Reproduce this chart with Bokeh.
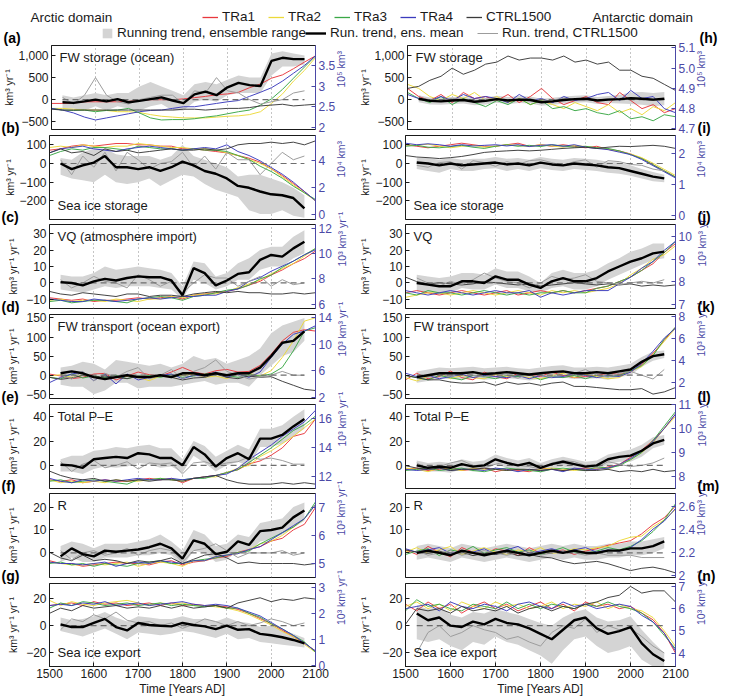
import math
from bokeh.plotting import figure
from bokeh.models import (Range1d, LinearAxis, FixedTicker, Label, Legend, LegendItem, Grid)
from bokeh.layouts import column, row
from bokeh.embed import file_html
from bokeh.resources import INLINE

# ---------------- data ----------------
years = [1500, 1525, 1550, 1575, 1600, 1625, 1650, 1675, 1700, 1725, 1750, 1775, 1800,
         1825, 1850, 1875, 1900, 1925, 1950, 1975, 2000, 2025, 2050, 2075, 2100]
trend_years = [1525, 1550, 1575, 1600, 1625, 1650, 1675, 1700, 1725, 1750, 1775, 1800,
               1825, 1850, 1875, 1900, 1925, 1950, 1975, 2000, 2025, 2050, 2075]
x_ticks = [1500, 1600, 1700, 1800, 1900, 2000, 2100]
grid_years = [1600, 1700, 1800, 1900, 2000]

# (a) Arctic FW storage (ocean)
a_tra1 = [2.58,2.58,2.59,2.62,2.62,2.62,2.62,2.63,2.65,2.67,2.67,2.67,2.69,2.72,2.75,2.79,2.81,2.85,2.96,3.05,3.19,3.27,3.42,3.58,3.73]
a_tra2 = [2.46,2.46,2.44,2.42,2.42,2.41,2.38,2.38,2.36,2.31,2.27,2.25,2.23,2.23,2.23,2.25,2.27,2.28,2.31,2.38,2.58,2.81,3.12,3.38,3.69]
a_tra3 = [2.46,2.42,2.41,2.42,2.38,2.41,2.42,2.46,2.35,2.23,2.18,2.19,2.19,2.21,2.25,2.28,2.33,2.38,2.42,2.54,2.69,2.92,3.19,3.46,3.73]
a_tra4 = [2.46,2.42,2.35,2.25,2.18,2.23,2.28,2.33,2.38,2.41,2.42,2.46,2.50,2.50,2.54,2.58,2.62,2.65,2.75,2.85,2.96,3.12,3.31,3.50,3.73]
a_ctrl = [2.44,2.42,2.42,2.42,2.42,2.42,2.42,2.42,2.42,2.42,2.42,2.42,2.44,2.44,2.42,2.44,2.46,2.46,2.48,2.52,2.54,2.56,2.52,2.54,2.56]
a_mean = [-60,-75,-40,0,-40,10,-60,-30,10,50,-20,-80,120,180,100,280,380,330,310,880,950,920,920]
a_lo = [-200,-200,-250,-150,-250,-150,-200,-250,-150,-100,-250,-250,-50,0,-50,100,150,150,150,550,750,750,800]
a_hi = [100,50,100,150,100,150,150,300,400,300,200,100,350,400,350,450,550,500,500,1050,1100,1050,1000]
a_ct = [50,-100,100,500,100,-50,-100,0,50,100,100,-100,200,150,500,200,150,0,-100,-50,0,150,200]

# (b) Arctic sea ice storage
b_tra1 = [4.8,4.9,5.1,5.2,5.1,5.2,5.3,5.3,5.2,5.2,5.1,5.1,4.9,4.9,4.8,4.7,4.6,4.4,4.2,3.9,3.4,2.9,2.3,1.7,1.0]
b_tra2 = [5.0,5.1,5.0,5.2,5.1,5.0,5.1,5.1,5.3,5.2,5.1,5.0,5.0,4.9,4.9,4.8,4.6,4.4,4.1,3.8,3.4,2.8,2.2,1.6,1.0]
b_tra3 = [4.4,4.7,4.9,4.8,5.0,5.0,4.9,4.8,5.1,5.0,4.9,4.9,4.8,4.9,4.8,4.8,4.7,4.4,4.1,3.6,3.2,2.7,2.1,1.6,1.1]
b_tra4 = [4.6,4.9,5.0,5.1,4.9,4.8,4.7,4.9,5.0,5.1,5.0,4.9,4.8,4.9,5.0,4.9,5.2,4.7,4.4,4.0,3.5,3.0,2.4,1.7,1.0]
b_ctrl = [4.6,4.9,4.6,4.7,4.4,4.9,4.7,4.8,4.6,4.7,4.8,4.9,4.8,4.8,4.9,4.8,4.9,5.2,5.3,5.3,5.4,5.3,5.4,5.2,5.5]
b_mean = [0,-30,-10,5,40,-20,-20,-30,-20,-40,-20,10,-10,-40,-55,-80,-120,-130,-150,-165,-170,-185,-240]
b_lo = [-60,-80,-90,-100,-60,-100,-110,-100,-80,-120,-90,-60,-70,-110,-140,-160,-180,-250,-270,-270,-250,-280,-290]
b_hi = [30,20,60,80,80,50,40,40,40,20,40,100,40,20,0,-20,-70,-60,-60,-80,-100,-130,-170]
b_ct = [20,-60,40,-20,60,-40,60,20,-30,0,10,60,-20,40,-30,60,20,20,-60,0,60,20,40]

# (c) Arctic VQ
c_tra1 = [6.5,6.4,6.3,6.4,6.2,6.3,6.3,6.4,6.5,6.4,6.5,6.6,6.4,6.7,6.8,6.9,7.0,7.2,7.5,7.8,8.3,8.7,9.2,9.6,10.2]
c_tra2 = [6.3,6.4,6.2,6.3,6.3,6.2,6.4,6.3,6.2,6.4,6.4,6.6,6.5,6.7,6.8,6.8,7.0,7.3,7.6,7.9,8.4,8.8,9.2,9.8,10.4]
c_tra3 = [6.2,6.3,6.1,6.2,6.3,6.3,6.2,6.1,6.4,6.5,6.6,6.5,6.3,6.6,6.7,6.9,7.1,7.2,7.5,8.0,8.3,8.9,9.4,9.9,10.4]
c_tra4 = [6.4,6.3,6.2,6.2,6.4,6.3,6.2,6.3,6.4,6.5,6.4,6.5,6.6,6.6,6.7,6.7,7.0,7.2,7.8,8.1,8.6,9.0,9.4,9.9,10.3]
c_ctrl = [7.0,6.8,6.7,6.9,6.8,6.7,6.6,6.8,6.8,6.6,6.7,6.7,6.6,6.8,6.9,7.0,6.9,7.0,6.9,6.9,6.8,6.8,6.9,6.8,6.9]
c_mean = [0.5,0,-1.5,1,2.5,1.5,3,4,3.5,3.5,1.5,-7.5,9,6,-1.5,1.5,5.5,6.5,14,17,16,21,25]
c_lo = [-4,-5,-6,-4,-2,-3,-2,-2,-2,-3,-4,-10,2,0,-4,-2,2,2,8,10,10,15,18]
c_hi = [5,4,4,6,10,8,9,10,9,8,6,-2,13,12,4,6,12,15,20,22,22,28,32]
c_ct = [2,-3,0,4,1,0,-3,5,2,-2,1,-6,0,5,3,3,-2,1,4,-2,2,-1,0]

# (d) Arctic FW transport
d_tra1 = [5.5,5.2,4.8,5.0,5.5,5.6,4.6,5.2,5.8,5.4,5.2,5.8,6.5,5.8,5.5,6.0,6.2,5.8,5.9,6.8,8.5,10.5,11.8,12.2,12.0]
d_tra2 = [5.2,5.4,5.0,5.3,5.1,4.8,5.0,5.2,5.0,4.5,5.2,5.0,5.3,5.5,5.0,5.2,4.8,5.5,5.6,5.2,6.0,8.0,10.5,13.5,14.0]
d_tra3 = [5.0,4.8,5.5,4.9,5.2,5.0,5.3,4.8,5.2,5.3,5.0,5.4,5.0,5.2,5.5,5.6,5.3,5.0,5.4,5.2,5.5,6.5,9.0,12.0,12.5]
d_tra4 = [4.2,5.0,5.5,5.8,4.5,5.5,4.0,5.5,4.6,5.0,5.3,5.5,4.8,5.3,5.2,5.8,5.0,5.5,5.0,5.8,8.0,10.0,11.5,12.0,12.8]
d_ctrl = [5.0,4.7,4.9,5.3,5.0,5.2,5.0,4.8,5.2,5.0,5.4,5.0,4.6,4.9,5.0,5.5,5.0,4.8,5.2,5.0,5.1,4.4,3.8,3.2,3.0]
d_mean = [5,10,5,-5,-10,-5,0,-5,-5,0,-5,5,5,0,5,0,5,5,20,50,85,90,115]
d_lo = [-25,-30,-30,-50,-40,-20,-20,-35,-30,-30,-30,-25,-20,-15,-25,-20,-20,-30,0,25,50,60,90]
d_hi = [20,25,35,30,15,40,35,30,25,30,20,30,50,40,45,30,40,50,70,110,130,140,150]
d_ct = [0,-10,10,-15,5,-5,10,20,-10,0,15,-10,10,20,40,10,0,-10,-5,0,10,0,0]

# (e) Arctic total P-E
e_tra1 = [11.8,11.7,11.8,11.6,11.7,11.8,11.7,11.7,11.8,11.9,11.8,11.9,11.6,11.9,12.0,12.1,12.3,12.5,12.9,13.1,13.5,14.0,14.8,15.0,16.0]
e_tra2 = [11.8,11.6,11.7,11.6,11.7,11.6,11.8,11.7,11.7,11.8,11.9,11.8,11.7,11.9,12.0,12.0,12.3,12.6,12.8,13.4,13.8,14.3,14.8,15.4,16.0]
e_tra3 = [11.7,11.8,11.6,11.7,11.8,11.7,11.6,11.5,11.8,11.8,11.9,11.8,11.8,11.9,11.9,12.1,12.3,12.5,13.0,13.5,14.0,14.6,15.2,15.6,16.2]
e_tra4 = [11.9,11.7,11.6,11.8,11.7,11.8,11.7,11.8,11.9,11.8,11.8,11.9,11.8,11.9,12.0,12.1,12.2,12.6,13.2,13.7,14.2,14.8,15.3,15.8,16.6]
e_ctrl = [12.4,12.1,11.9,11.8,11.9,11.7,11.8,11.7,11.8,11.7,11.8,11.8,11.7,11.9,12.0,12.1,11.8,11.6,11.5,11.5,11.5,11.6,11.5,11.6,11.5]
e_mean = [0.5,0,-2,5,6,7,6,10,9,6,6,0,15,9,-1,6,10,5,22,22,25,32,38]
e_lo = [-5,-5,-7,-3,-1,-2,-1,2,1,-2,-1,-6,8,2,-5,0,3,-1,15,15,18,24,30]
e_hi = [5,8,8,12,13,15,14,16,17,14,14,5,20,16,7,12,17,13,30,30,33,40,46]
e_ct = [3,-5,1,4,-2,0,3,-3,2,1,2,-7,2,3,0,2,3,7,5,6,4,1,1]

# (f) Arctic R
f_tra1 = [5.1,5.0,5.0,4.9,4.95,5.0,5.05,5.0,5.0,4.95,5.05,5.1,4.95,5.05,5.1,5.2,5.25,5.4,5.5,5.6,5.8,5.9,6.2,6.4,7.0]
f_tra2 = [5.05,5.0,4.95,4.95,5.0,4.95,5.0,5.05,4.9,5.0,5.05,5.0,4.9,5.1,5.1,5.25,5.3,5.35,5.5,5.7,5.8,6.0,6.3,6.6,7.1]
f_tra3 = [5.0,5.05,4.95,5.0,4.9,5.0,4.95,4.9,5.0,5.05,5.1,5.0,5.0,5.1,5.15,5.2,5.3,5.4,5.45,5.7,5.9,6.1,6.3,6.6,7.2]
f_tra4 = [5.05,5.0,5.0,4.95,5.0,5.05,4.9,5.0,5.05,5.0,5.1,5.05,5.0,5.1,5.1,5.25,5.3,5.35,5.5,5.6,5.85,6.1,6.35,6.6,7.1]
f_ctrl = [5.4,5.2,5.1,5.3,5.1,5.15,5.1,5.0,5.1,5.05,5.1,5.2,5.0,5.15,5.3,5.35,5.2,5.0,5.05,5.0,5.0,5.0,5.0,4.95,5.0]
f_mean = [-1.5,2,-0.5,-1.5,1,0.5,1,1.5,2.5,4,2,-2.5,5.5,4,-0.5,0.5,5,3.5,9.5,10,11,15.5,18.5]
f_lo = [-4,-2,-4,-4,-2,-2,-2,-1,-1,0,-1,-6,1,0,-4,-3,1,0,5,6,8,11,14]
f_hi = [3,5,4,2,4,4,4,5,6,8,5,1,10,8,3,4,8,7,13,14,15,20,22]
f_ct = [1,-3,0,1,-1,0,2,-1,1,2,1,-4,1,2,4,1,-2,0,0,0,1,-1,0]

# (g) Arctic sea ice export
g_tra1 = [2.3,2.35,2.4,2.3,2.45,2.35,2.4,2.3,2.35,2.4,2.3,2.4,2.3,2.35,2.3,2.3,2.25,2.15,2.0,1.8,1.6,1.35,1.1,0.85,0.55]
g_tra2 = [2.5,2.3,2.45,2.35,2.3,2.4,2.45,2.5,2.4,2.3,2.4,2.35,2.4,2.3,2.3,2.25,2.2,2.1,1.95,1.75,1.55,1.3,1.1,0.8,0.5]
g_tra3 = [2.2,2.4,2.3,2.45,2.4,2.3,2.35,2.4,2.3,2.35,2.4,2.3,2.35,2.3,2.25,2.3,2.2,2.2,2.0,1.85,1.6,1.4,1.15,0.9,0.5]
g_tra4 = [2.3,2.35,2.3,2.4,2.35,2.45,2.3,2.35,2.4,2.3,2.35,2.4,2.45,2.35,2.3,2.35,2.3,2.2,2.05,1.9,1.65,1.4,1.15,0.85,0.55]
g_ctrl = [2.0,2.2,2.1,2.3,2.2,2.25,2.3,2.2,2.25,2.2,2.3,2.2,2.3,2.2,2.25,2.3,2.2,2.4,2.5,2.6,2.45,2.55,2.5,2.6,2.55]
g_mean = [1,-1,-1,2,5,-1,-3.5,2,0.5,0,-0.5,2,0.5,-0.5,-2.5,0,-3,-2.5,-6,-7,-8.5,-10.5,-13]
g_lo = [-4,-6,-8,-5,-2,-6,-10,-5,-6,-7,-6,-4,-5,-7,-9,-6,-10,-9,-12,-13,-14,-15,-16]
g_hi = [6,4,5,7,10,6,3,7,6,5,5,7,5,5,3,6,3,2,-1,0,-3,-6,-9]
g_ct = [-3,5,3,8,5,10,4,2,3,0,2,-2,1,5,3,0,3,0,2,5,3,0,2]

# (h) Antarctic FW storage
h_tra1 = [4.90,4.86,4.84,4.87,4.83,4.88,4.85,4.86,4.84,4.87,4.83,4.86,4.90,4.85,4.82,4.84,4.86,4.83,4.82,4.88,4.84,4.80,4.82,4.78,4.80]
h_tra2 = [4.92,4.90,4.86,4.84,4.87,4.85,4.88,4.84,4.86,4.83,4.85,4.82,4.84,4.82,4.80,4.83,4.81,4.79,4.82,4.78,4.80,4.77,4.81,4.79,4.83]
h_tra3 = [4.88,4.85,4.83,4.86,4.82,4.85,4.83,4.81,4.84,4.82,4.85,4.82,4.84,4.80,4.81,4.79,4.80,4.78,4.77,4.79,4.75,4.76,4.74,4.77,4.76]
h_tra4 = [4.87,4.85,4.84,4.86,4.84,4.87,4.85,4.86,4.85,4.83,4.87,4.84,4.85,4.83,4.86,4.84,4.85,4.87,4.88,4.84,4.89,4.85,4.86,4.80,4.78]
h_ctrl = [4.90,4.91,4.94,4.96,5.00,4.97,4.99,5.02,5.03,5.06,5.04,5.05,5.05,5.04,5.06,5.03,5.04,5.02,5.03,4.99,4.99,4.96,4.95,4.92,4.89]
h_mean = [20,-30,-40,-20,-10,-50,-30,10,-20,0,-10,-60,-40,-10,10,20,-20,0,10,30,20,0,20]
h_lo = [-60,-110,-120,-100,-90,-130,-110,-70,-100,-80,-90,-140,-120,-90,-70,-60,-100,-80,-90,-100,-120,-150,-130]
h_hi = [100,50,40,60,70,30,50,90,60,80,70,20,40,70,90,100,60,80,110,160,170,150,170]
h_ct = [40,0,-20,30,0,-40,10,20,-30,10,20,-40,-10,30,0,10,-10,20,0,40,10,-20,10]

# (i) Antarctic sea ice storage
i_tra1 = [2.30,2.25,2.20,2.25,2.30,2.35,2.30,2.25,2.25,2.30,2.35,2.25,2.30,2.25,2.30,2.25,2.20,2.25,2.15,2.10,2.00,1.85,1.65,1.45,1.25]
i_tra2 = [2.30,2.28,2.32,2.25,2.20,2.25,2.28,2.22,2.25,2.30,2.28,2.24,2.30,2.26,2.22,2.28,2.24,2.20,2.15,2.08,2.00,1.88,1.70,1.50,1.30]
i_tra3 = [2.25,2.28,2.22,2.20,2.24,2.28,2.22,2.18,2.25,2.30,2.25,2.28,2.24,2.30,2.26,2.22,2.25,2.20,2.18,2.10,1.98,1.85,1.65,1.45,1.25]
i_tra4 = [2.35,2.30,2.33,2.30,2.25,2.30,2.26,2.28,2.30,2.26,2.30,2.24,2.28,2.30,2.25,2.30,2.22,2.18,2.14,2.06,1.98,1.82,1.62,1.42,1.22]
i_ctrl = [1.95,1.90,1.88,1.85,1.88,1.92,1.98,2.05,2.08,2.10,2.12,2.10,2.12,2.15,2.18,2.20,2.22,2.18,2.22,2.25,2.24,2.26,2.28,2.25,2.18]
i_mean = [5,0,-10,0,-10,-5,0,5,-5,0,-10,5,-5,-10,0,-5,-10,-20,-25,-40,-55,-70,-80]
i_lo = [-30,-40,-50,-30,-40,-40,-30,-25,-40,-30,-40,-25,-35,-40,-30,-35,-40,-50,-55,-65,-80,-95,-100]
i_hi = [30,30,20,30,20,25,25,35,25,30,20,35,25,20,30,25,20,10,5,-10,-30,-45,-60]
i_ct = [-10,-20,5,10,-30,15,5,-15,10,-5,15,20,5,-10,10,20,-20,15,10,-5,-10,-30,-40]

# (j) Antarctic VQ
j_tra1 = [7.5,7.6,7.5,7.4,7.5,7.6,7.5,7.4,7.5,7.6,7.4,7.5,7.6,7.5,7.6,7.5,7.6,7.7,7.8,8.0,8.2,8.5,8.8,9.3,9.7]
j_tra2 = [7.3,7.4,7.5,7.5,7.4,7.5,7.6,7.5,7.4,7.5,7.6,7.5,7.4,7.6,7.5,7.6,7.5,7.6,7.7,7.9,8.3,8.6,9.0,9.2,9.6]
j_tra3 = [7.5,7.4,7.6,7.5,7.5,7.4,7.5,7.6,7.5,7.4,7.5,7.4,7.5,7.5,7.6,7.5,7.5,7.7,7.8,8.0,8.2,8.5,8.9,9.3,9.8]
j_tra4 = [7.6,7.5,7.4,7.5,7.6,7.5,7.4,7.5,7.6,7.5,7.5,7.6,7.3,7.5,7.4,7.5,7.6,7.6,7.6,7.9,8.2,8.6,8.9,9.4,9.8]
j_ctrl = [8.2,8.0,7.9,7.95,7.9,7.85,7.9,8.0,7.95,7.9,7.85,7.9,7.8,7.85,7.9,7.95,7.9,7.85,7.9,7.85,7.9,7.8,7.85,7.8,7.85]
j_mean = [0,-1,-2,-2,1,1,0,4,2,2,-1,-3,1,3,1,1,3,7,10,13,15,18,19]
j_lo = [-5,-6,-7,-6,-3,-4,-4,-1,-3,-3,-5,-6,-3,-2,-4,-4,-2,2,5,8,11,14,15]
j_hi = [5,4,3,4,6,6,5,9,7,7,4,0,6,8,6,6,8,12,15,19,21,24,24]
j_ct = [3,0,-2,1,-1,2,6,3,1,0,-3,0,4,2,3,5,1,0,-1,0,1,0,2]

# (k) Antarctic FW transport
k_tra1 = [2.2,2.8,2.3,2.5,3.0,2.4,2.2,2.9,2.5,2.3,2.8,2.6,2.5,2.9,2.6,2.4,2.5,2.6,2.8,2.7,2.9,3.6,4.6,5.8,7.0]
k_tra2 = [2.4,2.1,2.5,2.8,2.3,2.6,2.4,2.3,2.7,2.5,2.6,2.4,2.3,2.6,2.8,2.4,2.7,2.5,2.3,2.4,3.0,3.4,4.5,5.7,6.9]
k_tra3 = [2.6,2.4,2.2,2.6,2.4,2.2,2.6,2.5,2.3,2.6,2.5,2.7,2.2,2.5,2.4,2.6,2.3,2.6,2.5,2.6,3.0,3.5,4.4,5.9,7.0]
k_tra4 = [2.8,2.5,2.6,2.3,2.5,2.7,2.4,2.6,2.5,2.4,2.6,2.3,2.6,2.4,2.5,2.8,2.6,2.4,2.6,2.5,2.9,3.7,4.8,6.0,6.9]
k_ctrl = [2.6,2.4,2.2,2.2,2.0,1.9,1.9,2.0,1.7,2.0,1.8,1.9,1.7,1.9,2.0,1.6,1.6,1.5,1.4,1.3,1.3,1.4,0.9,1.1,1.5]
k_mean = [-5,0,5,5,5,8,3,5,8,5,2,5,8,10,5,5,8,5,10,15,35,50,55]
k_lo = [-20,-15,-10,-10,-12,-8,-12,-10,-8,-10,-14,-10,-8,-6,-10,-10,-8,-12,-5,0,22,38,45]
k_hi = [10,15,20,18,20,22,18,20,22,18,16,20,24,26,20,20,22,20,25,30,48,62,65]
k_ct = [0,-5,5,-5,8,0,-5,5,0,-8,5,0,-5,10,5,15,0,-5,5,10,0,-10,15]

# (l) Antarctic total P-E
l_tra1 = [8.3,8.35,8.25,8.3,8.4,8.25,8.3,8.35,8.2,8.3,8.25,8.2,8.35,8.3,8.25,8.3,8.35,8.3,8.4,8.5,8.8,9.1,9.5,10.0,10.6]
l_tra2 = [8.35,8.3,8.2,8.35,8.3,8.25,8.35,8.3,8.3,8.25,8.3,8.25,8.3,8.35,8.3,8.25,8.3,8.35,8.3,8.5,8.7,9.0,9.4,10.0,10.5]
l_tra3 = [8.25,8.3,8.35,8.25,8.3,8.35,8.25,8.2,8.3,8.35,8.3,8.25,8.2,8.3,8.35,8.3,8.25,8.4,8.35,8.45,8.7,9.0,9.5,10.1,10.7]
l_tra4 = [8.3,8.25,8.3,8.35,8.25,8.3,8.3,8.25,8.35,8.3,8.2,8.3,8.25,8.3,8.2,8.35,8.3,8.3,8.35,8.5,8.75,9.05,9.45,10.0,10.6]
l_ctrl = [8.45,8.35,8.3,8.35,8.25,8.3,8.3,8.35,8.3,8.25,8.3,8.3,8.25,8.3,8.25,8.3,8.25,8.25,8.3,8.2,8.25,8.2,8.3,8.2,8.25]
l_mean = [0,-2,-1,-2,1,-1,0,5,2,0,2,-2,1,3,1,-1,0,5,7,8,12,18,21]
l_lo = [-4,-5,-5,-6,-3,-5,-4,1,-2,-4,-2,-6,-3,-1,-3,-5,-4,1,3,3,7,14,17]
l_hi = [4,2,3,2,5,3,4,9,6,4,6,2,5,7,5,3,4,9,11,13,17,23,25]
l_ct = [2,-3,-1,2,4,0,-2,1,3,0,-1,-3,2,4,3,0,-2,3,1,-1,0,2,6]

# (m) Antarctic R
m_tra1 = [2.22,2.18,2.25,2.2,2.16,2.24,2.2,2.18,2.23,2.21,2.17,2.24,2.19,2.2,2.22,2.18,2.21,2.23,2.26,2.28,2.3,2.36,2.44,2.5,2.6]
m_tra2 = [2.2,2.24,2.19,2.22,2.25,2.18,2.21,2.24,2.2,2.18,2.22,2.2,2.24,2.19,2.2,2.23,2.22,2.24,2.25,2.3,2.33,2.34,2.42,2.48,2.57]
m_tra3 = [2.18,2.21,2.23,2.17,2.22,2.2,2.25,2.19,2.22,2.24,2.2,2.22,2.18,2.21,2.24,2.2,2.19,2.21,2.24,2.22,2.25,2.3,2.38,2.48,2.62]
m_tra4 = [2.23,2.2,2.22,2.24,2.19,2.21,2.2,2.23,2.18,2.22,2.25,2.19,2.21,2.23,2.2,2.22,2.24,2.2,2.22,2.21,2.24,2.31,2.4,2.47,2.58]
m_ctrl = [2.22,2.2,2.19,2.21,2.18,2.2,2.17,2.19,2.18,2.2,2.17,2.18,2.16,2.15,2.12,2.1,2.11,2.12,2.1,2.07,2.04,2.06,2.07,2.05,2.02]
m_mean = [0,1,0,-1,1,0,-1,0,1,0,-1,0,1,0,1,0,0,1,1,2,2,3,5]
m_lo = [-3,-2,-3,-4,-2,-3,-4,-3,-2,-3,-4,-3,-2,-3,-2,-3,-3,-2,-2,-1,-1,0,2]
m_hi = [3,4,3,2,4,3,2,3,4,3,2,3,4,3,4,3,3,4,4,5,5,6,7]
m_ct = [1,-1,0,1,-1,0,1,0,-1,0,1,-1,0,1,0,-1,0,-1,-1,-1,-2,-2,-2]

# (n) Antarctic sea ice export
n_tra1 = [6.2,5.9,6.3,6.0,6.2,5.8,6.1,6.3,6.0,6.2,5.9,6.1,6.3,6.0,6.2,5.9,6.3,6.1,6.2,6.0,6.1,5.8,5.5,4.9,4.0]
n_tra2 = [6.1,6.3,6.0,6.2,5.9,6.3,6.1,6.0,6.3,6.1,6.2,6.0,6.1,6.3,6.0,6.2,6.1,6.3,6.0,6.2,6.0,5.9,5.6,5.0,4.3]
n_tra3 = [5.9,6.4,6.1,6.2,6.0,5.9,6.2,6.1,6.0,6.3,6.0,6.2,6.0,6.2,6.1,6.0,6.2,6.1,6.3,6.1,6.0,5.8,5.4,4.8,4.2]
n_tra4 = [6.0,6.1,6.2,5.9,6.3,6.1,6.0,6.2,6.1,5.9,6.2,6.3,6.1,6.0,6.3,6.1,6.2,6.0,6.1,6.2,6.1,5.7,5.4,4.9,4.1]
n_ctrl = [5.3,6.0,5.9,6.0,5.8,6.1,5.9,6.0,5.9,6.1,5.8,6.0,6.1,5.9,6.1,6.0,6.2,6.3,6.5,6.6,7.0,6.7,6.8,6.8,6.3]
n_mean = [9,4,6,0,-1,3,1,5,2,1,-2,-6,-10,-3,4,6,-2,-6,-4,-1,-13,-21,-26]
n_lo = [-10,-12,-10,-15,-18,-12,-14,-8,-12,-14,-18,-22,-28,-18,-10,-8,-15,-20,-18,-15,-25,-30,-30]
n_hi = [15,12,14,8,6,10,9,12,10,8,5,2,0,6,10,12,6,3,4,7,-3,-12,-20]
n_ct = [-20,-5,0,-8,-5,0,-3,-5,-10,-8,-12,-15,-5,0,-2,5,-5,0,-3,-2,-8,-15,-20]

# tick values / labels
t_store_l = [-500, 0, 500, 1000];   t_store_l_lab = ["\u2212500", "0", "500", "1,000"]
t_ice_l = [-200, -100, 0, 100];     t_ice_l_lab = ["\u2212200", "\u2212100", "0", "100"]
t_vq_l = [-10, 0, 10, 20, 30];      t_vq_l_lab = ["\u221210", "0", "10", "20", "30"]
t_fw_l = [-50, 0, 50, 100, 150];    t_fw_l_lab = ["\u221250", "0", "50", "100", "150"]
t_pe_l = [0, 20, 40];               t_pe_l_lab = ["0", "20", "40"]
t_r_l = [0, 10, 20];                t_r_l_lab = ["0", "10", "20"]
t_exp_l = [-20, 0, 20];             t_exp_l_lab = ["\u221220", "0", "20"]

a_rt = [2, 2.5, 3, 3.5];   a_rt_lab = ["2", "2.5", "3", "3.5"]
b_rt = [0, 2, 4];          b_rt_lab = ["0", "2", "4"]
c_rt = [6, 8, 10, 12];     c_rt_lab = ["6", "8", "10", "12"]
d_rt = [2, 6, 10, 14];     d_rt_lab = ["2", "6", "10", "14"]
e_rt = [12, 14, 16];       e_rt_lab = ["12", "14", "16"]
f_rt = [5, 6, 7];          f_rt_lab = ["5", "6", "7"]
g_rt = [0, 1, 2, 3];       g_rt_lab = ["0", "1", "2", "3"]
h_rt = [4.7, 4.8, 4.9, 5.0, 5.1]; h_rt_lab = ["4.7", "4.8", "4.9", "5.0", "5.1"]
i_rt = [0, 1, 2];          i_rt_lab = ["0", "1", "2"]
j_rt = [7, 8, 9, 10];      j_rt_lab = ["7", "8", "9", "10"]
k_rt = [2, 4, 6, 8];       k_rt_lab = ["2", "4", "6", "8"]
l_rt = [8, 9, 10, 11];     l_rt_lab = ["8", "9", "10", "11"]
m_rt = [2, 2.2, 2.4, 2.6]; m_rt_lab = ["2", "2.2", "2.4", "2.6"]
n_rt = [4, 5, 6, 7];       n_rt_lab = ["4", "5", "6", "7"]

series_names = ["TRa1", "TRa2", "TRa3", "TRa4", "CTRL1500"]

# ---------------- style ----------------
FONT = "Liberation Sans"
COLORS = ["#e8383d", "#ecd93a", "#3aa846", "#3b3bbd", "#3a3a3a"]
BAND = "#d4d4d4"
CTRL_TREND = "#9c9c9c"
AXBLUE = "#4b49a6"
DARK = "#1a1a1a"

U_STORE = "km\u00b3 yr\u207b\u00b9"
U_FLUX = "km\u00b3 yr\u207b\u00b9 yr\u207b\u00b9"

panels = [
    dict(letter="(a)", title="FW storage (ocean)", tpos="top", ly=(-680, 1230), ry=(1.95, 3.98),
         lt=t_store_l, ltl=t_store_l_lab, rt=a_rt, rtl=a_rt_lab, lu=U_STORE, ru="10\u2075 km\u00b3",
         s=[a_tra1, a_tra2, a_tra3, a_tra4, a_ctrl], mean=a_mean, lo=a_lo, hi=a_hi, ct=a_ct),
    dict(letter="(b)", title="Sea ice storage", tpos="bottom", ly=(-300, 150), ry=(-0.4, 5.9),
         lt=t_ice_l, ltl=t_ice_l_lab, rt=b_rt, rtl=b_rt_lab, lu=U_STORE, ru="10\u2074 km\u00b3",
         s=[b_tra1, b_tra2, b_tra3, b_tra4, b_ctrl], mean=b_mean, lo=b_lo, hi=b_hi, ct=b_ct),
    dict(letter="(c)", title="VQ (atmosphere import)", tpos="top", ly=(-15.5, 35.5), ry=(5.65, 12.3),
         lt=t_vq_l, ltl=t_vq_l_lab, rt=c_rt, rtl=c_rt_lab, lu=U_FLUX, ru="10\u00b3 km\u00b3 yr\u207b\u00b9",
         s=[c_tra1, c_tra2, c_tra3, c_tra4, c_ctrl], mean=c_mean, lo=c_lo, hi=c_hi, ct=c_ct),
    dict(letter="(d)", title="FW transport (ocean export)", tpos="top", ly=(-61, 159), ry=(1.8, 14.5),
         lt=t_fw_l, ltl=t_fw_l_lab, rt=d_rt, rtl=d_rt_lab, lu=U_FLUX, ru="10\u00b3 km\u00b3 yr\u207b\u00b9",
         s=[d_tra1, d_tra2, d_tra3, d_tra4, d_ctrl], mean=d_mean, lo=d_lo, hi=d_hi, ct=d_ct),
    dict(letter="(e)", title="Total P\u2013E", tpos="top", ly=(-19, 50), ry=(11.2, 17.0),
         lt=t_pe_l, ltl=t_pe_l_lab, rt=e_rt, rtl=e_rt_lab, lu=U_FLUX, ru="10\u00b3 km\u00b3 yr\u207b\u00b9",
         s=[e_tra1, e_tra2, e_tra3, e_tra4, e_ctrl], mean=e_mean, lo=e_lo, hi=e_hi, ct=e_ct),
    dict(letter="(f)", title="R", tpos="top", ly=(-10.7, 25.9), ry=(4.5, 7.5),
         lt=t_r_l, ltl=t_r_l_lab, rt=f_rt, rtl=f_rt_lab, lu=U_FLUX, ru="10\u00b3 km\u00b3 yr\u207b\u00b9",
         s=[f_tra1, f_tra2, f_tra3, f_tra4, f_ctrl], mean=f_mean, lo=f_lo, hi=f_hi, ct=f_ct),
    dict(letter="(g)", title="Sea ice export", tpos="bottom", ly=(-30, 31), ry=(-0.05, 3.15),
         lt=t_exp_l, ltl=t_exp_l_lab, rt=g_rt, rtl=g_rt_lab, lu=U_FLUX, ru="10\u00b3 km\u00b3 yr\u207b\u00b9",
         s=[g_tra1, g_tra2, g_tra3, g_tra4, g_ctrl], mean=g_mean, lo=g_lo, hi=g_hi, ct=g_ct),
    dict(letter="(h)", title="FW storage", tpos="top", ly=(-680, 1230), ry=(4.697, 5.112),
         lt=t_store_l, ltl=t_store_l_lab, rt=h_rt, rtl=h_rt_lab, lu=U_STORE, ru="10\u2075 km\u00b3",
         s=[h_tra1, h_tra2, h_tra3, h_tra4, h_ctrl], mean=h_mean, lo=h_lo, hi=h_hi, ct=h_ct),
    dict(letter="(i)", title="Sea ice storage", tpos="bottom", ly=(-300, 150), ry=(-0.13, 2.6),
         lt=t_ice_l, ltl=t_ice_l_lab, rt=i_rt, rtl=i_rt_lab, lu=U_STORE, ru="10\u2074 km\u00b3",
         s=[i_tra1, i_tra2, i_tra3, i_tra4, i_ctrl], mean=i_mean, lo=i_lo, hi=i_hi, ct=i_ct),
    dict(letter="(j)", title="VQ", tpos="top", ly=(-15.5, 35.5), ry=(6.8, 10.55),
         lt=t_vq_l, ltl=t_vq_l_lab, rt=j_rt, rtl=j_rt_lab, lu=U_FLUX, ru="10\u00b3 km\u00b3 yr\u207b\u00b9",
         s=[j_tra1, j_tra2, j_tra3, j_tra4, j_ctrl], mean=j_mean, lo=j_lo, hi=j_hi, ct=j_ct),
    dict(letter="(k)", title="FW transport", tpos="top", ly=(-61, 159), ry=(0.5, 8.15),
         lt=t_fw_l, ltl=t_fw_l_lab, rt=k_rt, rtl=k_rt_lab, lu=U_FLUX, ru="10\u00b3 km\u00b3 yr\u207b\u00b9",
         s=[k_tra1, k_tra2, k_tra3, k_tra4, k_ctrl], mean=k_mean, lo=k_lo, hi=k_hi, ct=k_ct),
    dict(letter="(l)", title="Total P\u2013E", tpos="top", ly=(-19, 50), ry=(7.5, 11.0),
         lt=t_pe_l, ltl=t_pe_l_lab, rt=l_rt, rtl=l_rt_lab, lu=U_FLUX, ru="10\u00b3 km\u00b3 yr\u207b\u00b9",
         s=[l_tra1, l_tra2, l_tra3, l_tra4, l_ctrl], mean=l_mean, lo=l_lo, hi=l_hi, ct=l_ct),
    dict(letter="(m)", title="R", tpos="top", ly=(-10.7, 25.9), ry=(1.98, 2.71),
         lt=t_r_l, ltl=t_r_l_lab, rt=m_rt, rtl=m_rt_lab, lu=U_FLUX, ru="10\u00b3 km\u00b3 yr\u207b\u00b9",
         s=[m_tra1, m_tra2, m_tra3, m_tra4, m_ctrl], mean=m_mean, lo=m_lo, hi=m_hi, ct=m_ct),
    dict(letter="(n)", title="Sea ice export", tpos="bottom", ly=(-30, 31), ry=(3.4, 7.13),
         lt=t_exp_l, ltl=t_exp_l_lab, rt=n_rt, rtl=n_rt_lab, lu=U_FLUX, ru="10\u00b3 km\u00b3 yr\u207b\u00b9",
         s=[n_tra1, n_tra2, n_tra3, n_tra4, n_ctrl], mean=n_mean, lo=n_lo, hi=n_hi, ct=n_ct),
]

# ---------------- layout geometry ----------------
FW, FH = 270, 84
HEADER_H = 42
FRAME_TOPS = [45, 135, 224, 314, 404, 493, 583]
TOP_B = 20
BOT_B = 12
LAST_BOT = 698 - FRAME_TOPS[-1] - FH

CHAR_W = {"0": .556, "1": .556, "2": .556, "3": .556, "4": .556, "5": .556, "6": .556,
          "7": .556, "8": .556, "9": .556, ",": .278, ".": .278, "\u2212": .584}


def label_width(labels, size=12.0):
    return max(sum(CHAR_W.get(ch, .556) for ch in s) for s in labels) * size


def style_axis(ax, color, ticks, labels, title, standoff):
    ax.ticker = FixedTicker(ticks=ticks)
    ax.major_label_overrides = dict(zip(ticks, labels))
    ax.major_tick_in = 4
    ax.major_tick_out = 0
    ax.minor_tick_line_color = None
    ax.major_label_standoff = 3
    ax.axis_line_color = color
    ax.major_tick_line_color = color
    ax.major_label_text_color = color
    ax.major_label_text_font = FONT
    ax.major_label_text_font_size = "12px"
    ax.axis_label = title
    ax.axis_label_text_color = color
    ax.axis_label_text_font = FONT
    ax.axis_label_text_font_size = "10.5px"
    ax.axis_label_text_font_style = "normal"
    ax.axis_label_standoff = int(max(0, round(standoff)))


def make_panel(sp, col, ri):
    last = ri == 6
    lb = 49
    rb = 37 if col == 0 else 54
    bb = LAST_BOT if last else BOT_B
    p = figure(width=lb + FW + rb, height=TOP_B + FH + bb,
               x_range=Range1d(1500, 2100), y_range=Range1d(*sp["ly"]),
               output_backend="svg", toolbar_location=None,
               x_axis_location="below" if last else None,
               min_border_left=lb, min_border_right=rb,
               min_border_top=TOP_B, min_border_bottom=bb)
    p.extra_y_ranges = {"r": Range1d(*sp["ry"])}
    p.grid.visible = False
    p.add_layout(Grid(dimension=0, ticker=FixedTicker(ticks=grid_years),
                      grid_line_color="#8a8a8a", grid_line_dash="1 3", grid_line_width=1))
    p.outline_line_color = DARK
    p.outline_line_width = 1
    p.background_fill_color = "white"
    p.border_fill_color = None

    wl = label_width(sp["ltl"])
    target_l = 24 if col == 0 else 28
    style_axis(p.yaxis[0], DARK, sp["lt"], sp["ltl"], sp["lu"], target_l - wl)

    rax = LinearAxis(y_range_name="r")
    wr = label_width(sp["rtl"])
    style_axis(rax, AXBLUE, sp["rt"], sp["rtl"], sp["ru"], 20 - wr)
    if hasattr(rax, "axis_label_orientation"):
        rax.axis_label_orientation = math.pi / 2
    p.add_layout(rax, "right")

    if last:
        xa = p.xaxis[0]
        xa.ticker = FixedTicker(ticks=x_ticks)
        xa.major_tick_in = 4
        xa.major_tick_out = 0
        xa.minor_tick_line_color = None
        xa.major_label_standoff = 2
        xa.axis_line_color = DARK
        xa.major_tick_line_color = DARK
        xa.major_label_text_color = DARK
        xa.major_label_text_font = FONT
        xa.major_label_text_font_size = "12px"
        xa.axis_label = "Time [Years AD]"
        xa.axis_label_standoff = 1
        xa.axis_label_text_font = FONT
        xa.axis_label_text_font_size = "12px"
        xa.axis_label_text_font_style = "normal"
        xa.axis_label_text_color = DARK

    # panel letter as the figure title
    p.title.text = sp["letter"]
    p.title.align = "left"
    p.title.offset = -48 if col == 0 else FW + 22
    p.title.standoff = 0
    p.title.text_font = FONT
    p.title.text_font_size = "14px"
    p.title.text_font_style = "bold"
    p.title.text_color = "black"

    # ensemble range band (left scale)
    p.varea(x=trend_years, y1=sp["lo"], y2=sp["hi"], fill_color=BAND, fill_alpha=1.0)
    # absolute series (right scale)
    for vals, c in zip(sp["s"], COLORS):
        p.line(years, vals, y_range_name="r", line_color=c, line_width=1, line_alpha=0.95)
    # running trend of CTRL1500 (left scale)
    p.line(trend_years, sp["ct"], line_color=CTRL_TREND, line_width=1)
    # zero reference
    p.line([trend_years[0], trend_years[-1]], [0, 0], line_color="#6e6e6e",
           line_dash="6 4", line_width=1.2)
    # ensemble-mean running trend
    p.line(trend_years, sp["mean"], line_color="black", line_width=2.4)

    ty = FH - 12 if sp["tpos"] == "top" else 14
    p.add_layout(Label(x=8, y=ty, x_units="screen", y_units="screen", text=sp["title"],
                       text_baseline="middle", text_font=FONT, text_font_size="13px",
                       text_color=DARK))
    return p


# ---------------- header with legends ----------------
hdr = figure(width=729, height=HEADER_H, x_range=Range1d(0, 729), y_range=Range1d(0, HEADER_H),
             output_backend="svg", toolbar_location=None, x_axis_location=None,
             y_axis_location=None, min_border=0, min_border_left=0, min_border_right=0,
             min_border_top=0, min_border_bottom=0)
hdr.outline_line_color = None
hdr.grid.visible = False
hdr.background_fill_color = None
hdr.border_fill_color = None

OFF = [-50]  # legend proxies sit outside the visible header range
items = []
for name, c in zip(series_names, COLORS):
    r = hdr.line(x=OFF, y=OFF, line_color=c, line_width=1.3)
    items.append(LegendItem(label=name, renderers=[r]))
leg1 = Legend(items=items, orientation="horizontal", location=(202, 18),
              glyph_width=16, glyph_height=14, label_height=14, label_standoff=4, spacing=13,
              padding=0, margin=0, border_line_color=None, background_fill_alpha=0,
              label_text_font=FONT, label_text_font_size="13.5px", label_text_color=DARK)
hdr.add_layout(leg1)

rb_ = hdr.varea(x=OFF, y1=OFF, y2=OFF, fill_color=BAND)
rm_ = hdr.line(x=OFF, y=OFF, line_color="black", line_width=2.4)
rc_ = hdr.line(x=OFF, y=OFF, line_color=CTRL_TREND, line_width=1)
for its, loc, gw in [([LegendItem(label="Running trend, ensemble range", renderers=[rb_])], (101, 2), 12),
                     ([LegendItem(label="Run. trend, ens. mean", renderers=[rm_])], (305, 2), 21),
                     ([LegendItem(label="Run. trend, CTRL1500", renderers=[rc_])], (477, 2), 21)]:
    lg = Legend(items=its, orientation="horizontal", location=loc,
                glyph_width=gw, glyph_height=12, label_height=14, label_standoff=4, spacing=0,
                padding=0, margin=0, border_line_color=None, background_fill_alpha=0,
                label_text_font=FONT, label_text_font_size="13.5px", label_text_color=DARK)
    hdr.add_layout(lg)

hdr.add_layout(Label(x=30, y=25, x_units="screen", y_units="screen", text="Arctic domain",
                     text_baseline="middle", text_font=FONT, text_font_size="13.5px",
                     text_color=DARK))
hdr.add_layout(Label(x=592, y=25, x_units="screen", y_units="screen", text="Antarctic domain",
                     text_baseline="middle", text_font=FONT, text_font_size="13.5px",
                     text_color=DARK))

rows = [hdr]
prev_bottom = HEADER_H
for ri in range(7):
    left = make_panel(panels[ri], 0, ri)
    right = make_panel(panels[7 + ri], 1, ri)
    top = FRAME_TOPS[ri] - TOP_B
    shift = top - prev_bottom
    rows.append(row(left, right, spacing=0, margin=(shift, 0, 0, 0)))
    prev_bottom = FRAME_TOPS[ri] + FH + (LAST_BOT if ri == 6 else BOT_B)

p = column(*rows, spacing=0)

open("out.html", "w").write(file_html(p, INLINE))
